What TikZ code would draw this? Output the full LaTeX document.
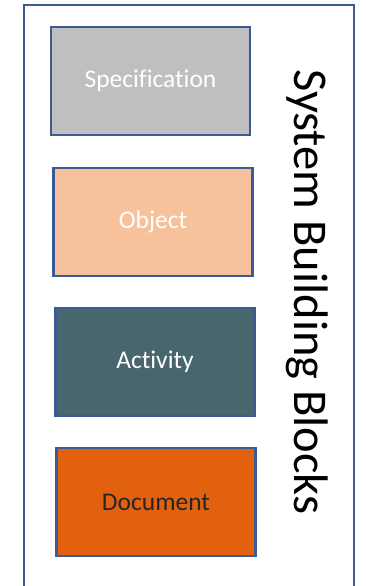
\documentclass[tikz,border=0pt]{standalone}
\usepackage{fontspec}
\setmainfont[Ligatures=NoCommon]{Carlito}
\usetikzlibrary{positioning}
\definecolor{frameblue}{HTML}{3B5A96}
\definecolor{specgray}{HTML}{BFBFBF}
\definecolor{objpeach}{HTML}{F7C19C}
\definecolor{actteal}{HTML}{47666D}
\definecolor{docorange}{HTML}{E2610F}
\definecolor{doctext}{HTML}{262626}

\begin{document}
\begin{tikzpicture}[x=1pt, y=-1pt,
    block/.style={draw=frameblue, line width=2.2pt, minimum width=199pt,
        minimum height=108pt, inner sep=0pt, font=\fontsize{25.5}{30}\selectfont}]
    \useasboundingbox (0, 0) rectangle (365, 586);
    \clip (0, 0) rectangle (365, 586);

    % Outer frame (runs past the bottom edge)
    \draw[frameblue, line width=2pt] (24, 5) rectangle (354, 620);

    % Building blocks
    \node[block, fill=specgray, text=white] (spec) at (150.5, 81) {Specification};
    \node[block, fill=objpeach, text=white] (obj) at (153, 222) {Object};
    \node[block, fill=actteal, text=white] (act) at (155, 362) {Activity};
    \node[block, fill=docorange, text=doctext] (doc) at (156, 502) {Document};

    % Title
    \node[rotate=-90, font=\fontsize{48.5}{54}\selectfont] (title) at (307, 292) {System Building Blocks};
\end{tikzpicture}
\end{document}
